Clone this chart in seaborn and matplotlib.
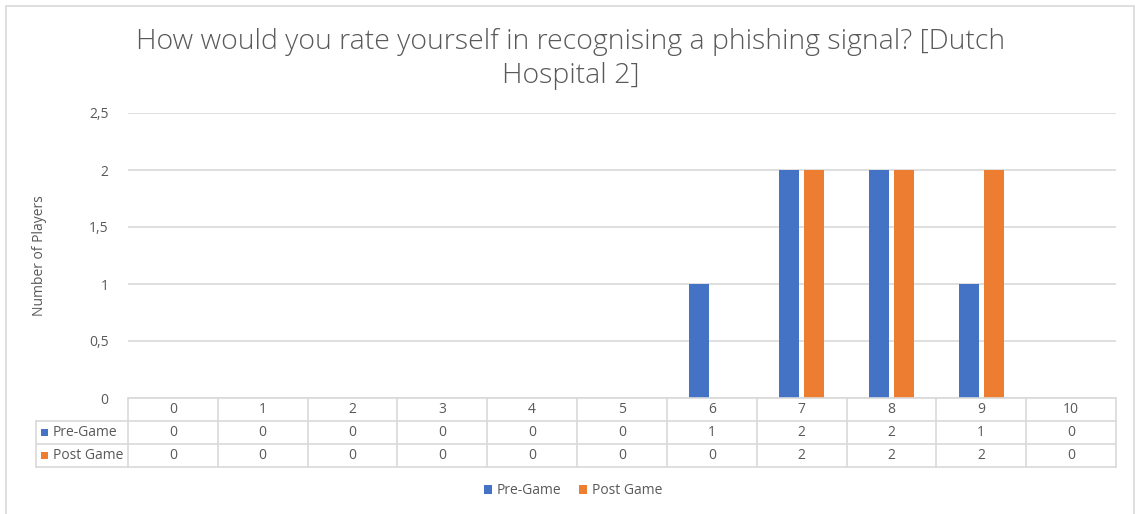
import matplotlib
matplotlib.use("Agg")
import matplotlib.pyplot as plt
from matplotlib.patches import Rectangle
from matplotlib.lines import Line2D
import seaborn as sns
import pandas as pd

# Ratings 0-10 and number of players per rating
ratings = ["0", "1", "2", "3", "4", "5", "6", "7", "8", "9", "10"]
pre_game = [0, 0, 0, 0, 0, 0, 1, 2, 2, 1, 0]
post_game = [0, 0, 0, 0, 0, 0, 0, 2, 2, 2, 0]
series_names = ["Pre-Game", "Post Game"]
series_colors = ["#4472C4", "#ED7D31"]
y_ticks = [0, 0.5, 1, 1.5, 2, 2.5]

title = "How would you rate yourself in recognising a phishing signal? [Dutch\nHospital 2]"
y_label = "Number of Players"

TEXT = "#595959"
GRID = "#D9D9D9"
FONT = "Open Sans"
FS = 10

sns.set_theme(style="white")
plt.rcParams["font.family"] = [FONT, "DejaVu Sans"]

W, H = 1136, 514
fig = plt.figure(figsize=(W / 100, H / 100), dpi=100)

def fx(px):
    return px / W

def fy(py):
    return 1 - py / H

# plot area
left, right, top, bottom = 128, 1116, 113, 398
ax = fig.add_axes([fx(left), fy(bottom), fx(right) - fx(left), fy(top) - fy(bottom)])

df = pd.DataFrame({
    "rating": ratings * 2,
    "players": pre_game + post_game,
    "series": [series_names[0]] * len(ratings) + [series_names[1]] * len(ratings),
})

sns.barplot(data=df, x="rating", y="players", hue="series", order=ratings,
            hue_order=series_names, palette=series_colors, width=0.55, gap=0.19,
            saturation=1, linewidth=0, ax=ax, legend=True)

ax.set_xlim(-0.5, len(ratings) - 0.5)
ax.set_ylim(0, 2.5)
ax.set_yticks(y_ticks)
ax.set_yticklabels([("%g" % v).replace(".", ",") for v in y_ticks], color=TEXT, fontsize=FS)
ax.tick_params(axis="y", length=0, pad=14)
ax.set_xticks([])
ax.set_xlabel("")
ax.set_ylabel(y_label, color=TEXT, fontsize=FS, labelpad=30)
ax.yaxis.grid(True, color=GRID, linewidth=1.2)
ax.set_axisbelow(True)
for s in ax.spines.values():
    s.set_visible(False)

handles, labels = ax.get_legend_handles_labels()
ax.get_legend().remove()

# data table under the plot
row_y = [398, 421, 444, 467]
label_left = 36
col_w = (right - left) / len(ratings)
lw = 1.2

def hline(x0, x1, y):
    fig.add_artist(Line2D([fx(x0), fx(x1)], [fy(y), fy(y)], color=GRID, lw=lw))

def vline(x, y0, y1):
    fig.add_artist(Line2D([fx(x), fx(x)], [fy(y0), fy(y1)], color=GRID, lw=lw))

hline(left, right, row_y[0])
for y in row_y[1:]:
    hline(label_left, right, y)
for i in range(len(ratings) + 1):
    vline(left + i * col_w, row_y[0], row_y[3])
vline(label_left, row_y[1], row_y[3])

for i, r in enumerate(ratings):
    cx = fx(left + (i + 0.5) * col_w)
    fig.text(cx, fy((row_y[0] + row_y[1]) / 2), r, ha="center", va="center", color=TEXT, fontsize=FS)
    fig.text(cx, fy((row_y[1] + row_y[2]) / 2), str(pre_game[i]), ha="center", va="center", color=TEXT, fontsize=FS)
    fig.text(cx, fy((row_y[2] + row_y[3]) / 2), str(post_game[i]), ha="center", va="center", color=TEXT, fontsize=FS)

for k, (name, col) in enumerate(zip(series_names, series_colors)):
    cy = (row_y[k + 1] + row_y[k + 2]) / 2
    fig.add_artist(Rectangle((fx(41), fy(cy + 3.5)), fx(7), 7 / H, facecolor=col, edgecolor="none"))
    fig.text(fx(53), fy(cy), name, ha="left", va="center", color=TEXT, fontsize=FS)

# title
fig.text(0.502, fy(59), title, ha="center", va="center", color=TEXT, fontsize=20.5,
         linespacing=1.3, fontweight="light")

# legend
fig.legend(handles, labels, loc="center", bbox_to_anchor=(fx(573), fy(491)), ncol=2,
           frameon=False, fontsize=FS, handlelength=0.6, handleheight=0.6,
           handletextpad=0.3, columnspacing=1.3, labelcolor=TEXT)

# chart area border
fig.add_artist(Rectangle((fx(5.5), fy(H + 5)), fx(1134 - 5.5), (H + 5 - 6) / H,
                         fill=False, edgecolor=GRID, lw=1.2))

fig.savefig("out.png", dpi=100, facecolor="white")
